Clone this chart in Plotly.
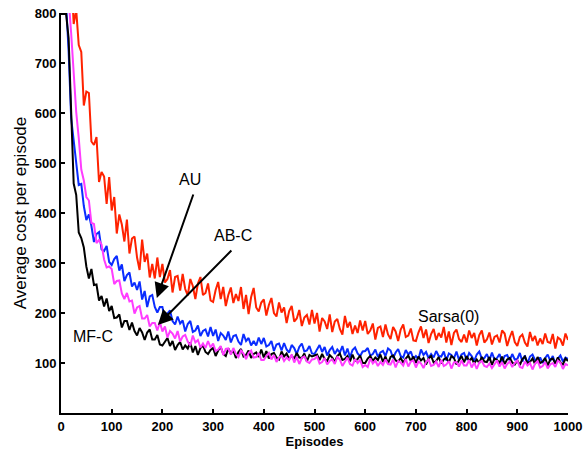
import plotly.graph_objects as go

episodes = list(range(0, 1001, 5))

sarsa0 = [
    990, 960, 930, 900, 880, 778, 806, 736, 722, 615, 643, 640, 543, 536, 552, 462, 482, 473, 418, 472,
    405, 432, 359, 397, 377, 343, 387, 319, 349, 353, 311, 286, 347, 302, 319, 271, 298, 269, 311, 272,
    298, 261, 268, 286, 241, 272, 274, 245, 278, 248, 235, 268, 254, 228, 259, 272, 236, 240, 259, 225,
    222, 246, 262, 228, 252, 214, 236, 251, 220, 238, 224, 252, 208, 236, 198, 232, 250, 211, 203, 221,
    227, 195, 216, 230, 200, 193, 221, 201, 211, 180, 204, 214, 183, 189, 206, 174, 191, 196, 177, 206,
    179, 200, 163, 190, 183, 168, 197, 162, 183, 188, 168, 157, 194, 171, 182, 158, 175, 160, 185, 165,
    184, 158, 165, 179, 147, 170, 173, 152, 177, 157, 148, 172, 163, 144, 167, 177, 152, 155, 169, 145,
    144, 161, 173, 150, 167, 140, 158, 168, 146, 160, 151, 172, 141, 163, 136, 160, 167, 148, 142, 157,
    141, 165, 150, 160, 135, 156, 165, 141, 147, 161, 137, 152, 155, 141, 165, 159, 134, 151, 164, 142,
    134, 152, 157, 141, 133, 162, 144, 154, 135, 149, 138, 159, 142, 140, 158, 129, 151, 147, 135, 159,
    146,
]

au = [
    950, 900, 820, 724, 590, 546, 500, 456, 458, 414, 386, 397, 374, 342, 358, 362, 327, 324, 334, 302,
    296, 308, 314, 285, 297, 264, 276, 281, 253, 261, 246, 263, 227, 244, 212, 233, 236, 212, 201, 212,
    212, 188, 199, 205, 184, 177, 193, 179, 185, 163, 178, 184, 162, 165, 175, 154, 164, 167, 153, 172,
    154, 167, 144, 160, 155, 146, 163, 141, 154, 156, 143, 136, 158, 144, 150, 135, 144, 135, 151, 138,
    150, 133, 136, 144, 124, 137, 139, 125, 140, 127, 121, 136, 130, 118, 132, 139, 123, 125, 134, 119,
    118, 128, 136, 122, 132, 115, 126, 132, 118, 127, 121, 134, 115, 129, 111, 126, 131, 119, 114, 123,
    124, 130, 115, 118, 127, 112, 121, 124, 114, 129, 125, 110, 121, 128, 114, 111, 126, 117, 123, 108,
    114, 108, 127, 116, 122, 110, 118, 111, 124, 114, 113, 123, 105, 119, 116, 109, 123, 106, 117, 120,
    106, 120, 114, 104, 117, 123, 109, 110, 118, 105, 121, 107, 110, 118, 101, 114, 116, 105, 118, 107,
    108, 120, 103, 115, 99, 113, 117, 106, 103, 111, 100, 110, 117, 104, 114, 99, 109, 115, 103, 111,
    108,
]

mfc = [
    798, 798, 798, 750, 610, 459, 436, 361, 350, 331, 293, 269, 288, 256, 257, 225, 234, 213, 229, 204,
    214, 190, 191, 197, 171, 184, 184, 166, 181, 164, 155, 170, 161, 146, 161, 167, 147, 147, 156, 137,
    135, 144, 150, 134, 144, 126, 136, 142, 127, 135, 129, 141, 121, 134, 116, 130, 135, 122, 118, 126,
    130, 114, 125, 132, 118, 114, 129, 119, 125, 110, 122, 128, 113, 116, 125, 110, 118, 121, 112, 127,
    111, 124, 109, 118, 120, 111, 107, 123, 113, 119, 108, 115, 108, 120, 111, 110, 119, 103, 116, 113,
    115, 117, 106, 118, 108, 104, 116, 111, 102, 114, 119, 106, 108, 114, 103, 117, 104, 108, 115, 100,
    100, 109, 114, 104, 111, 106, 117, 102, 113, 99, 112, 115, 105, 103, 110, 101, 109, 115, 104, 113,
    100, 113, 105, 110, 97, 109, 114, 101, 104, 112, 99, 107, 110, 101, 114, 110, 97, 107, 114, 101,
    114, 104, 110, 99, 107, 100, 112, 103, 102, 112, 96, 109, 106, 100, 113, 98, 107, 110, 101, 97,
    105, 96, 108, 113, 100, 102, 109, 98, 112, 100, 103, 110, 95, 107, 109, 99, 111, 101, 97, 109,
    104,
]

abc = [
    950, 910, 870, 830, 760, 677, 602, 550, 487, 465, 432, 425, 380, 378, 340, 346, 337, 307, 291, 293,
    288, 258, 264, 265, 239, 228, 240, 223, 225, 199, 211, 214, 189, 189, 196, 173, 180, 180, 165, 182,
    163, 173, 151, 164, 159, 149, 164, 143, 153, 156, 143, 135, 155, 141, 146, 131, 139, 130, 144, 131,
    139, 124, 127, 134, 116, 128, 129, 117, 130, 118, 112, 125, 119, 108, 120, 125, 111, 112, 120, 106,
    106, 114, 120, 107, 116, 102, 111, 115, 104, 111, 106, 117, 101, 112, 98, 110, 113, 103, 100, 107,
    108, 113, 99, 102, 110, 97, 104, 107, 98, 112, 107, 94, 104, 111, 98, 95, 108, 100, 106, 92,
    96, 92, 109, 99, 105, 94, 102, 96, 107, 98, 97, 107, 91, 104, 101, 95, 108, 93, 103, 105,
    91, 103, 99, 90, 102, 107, 94, 96, 103, 92, 106, 94, 97, 104, 89, 101, 102, 93, 105, 95,
    95, 106, 91, 101, 88, 101, 104, 94, 92, 99, 90, 99, 105, 93, 102, 89, 98, 103, 92, 100,
    105, 92, 90, 103, 95, 100, 87, 99, 104, 91, 94, 102, 89, 97, 100, 92, 105, 101, 88, 98,
    95,
]

xticks = list(range(0, 1001, 100))
yticks = list(range(100, 801, 100))

FONT = "Liberation Sans, Arial, Helvetica, sans-serif"

fig = go.Figure()
series = [
    ("Sarsa(0)", sarsa0, "#ff2200"),
    ("AU", au, "#0a2cff"),
    ("MF-C", mfc, "#000000"),
    ("AB-C", abc, "#ff3cff"),
]
for name, vals, col in series:
    fig.add_trace(go.Scatter(x=episodes, y=vals, mode="lines", name=name,
                             line=dict(color=col, width=2)))

labels = [
    ("AU", 254, 468),
    ("AB-C", 339, 356),
    ("MF-C", 63, 154),
    ("Sarsa(0)", 765, 194),
]
for txt, x, y in labels:
    fig.add_annotation(x=x, y=y, text=txt, showarrow=False,
                       font=dict(family=FONT, size=16, color="black"))

arrows = [
    (189, 230, 262, 440),
    (191, 176, 339, 328),
]
for x, y, ax, ay in arrows:
    fig.add_annotation(x=x, y=y, ax=ax, ay=ay, xref="x", yref="y", axref="x", ayref="y",
                       text="", showarrow=True, arrowhead=2, arrowsize=1.5,
                       arrowwidth=2, arrowcolor="black")

fig.update_layout(
    width=584, height=451,
    margin=dict(l=61, r=16, t=13, b=38),
    paper_bgcolor="white", plot_bgcolor="white",
    showlegend=False,
    font=dict(family=FONT, color="black"),
)
fig.update_xaxes(range=[0, 1000], tickvals=xticks, ticktext=[str(v) for v in xticks],
                 automargin=False,
                 showline=True, linecolor="black", linewidth=2, ticks="inside", ticklen=4,
                 tickwidth=1.5, tickcolor="black", showgrid=False, zeroline=False,
                 tickfont=dict(family=FONT, size=13, color="black", weight="bold"),
                 title=dict(text="<b>Episodes</b>", font=dict(family=FONT, size=13), standoff=2))
fig.update_yaxes(range=[0, 800], tickvals=yticks, ticktext=[str(v) for v in yticks],
                 automargin=False,
                 showline=True, linecolor="black", linewidth=2, ticks="inside", ticklen=4,
                 tickwidth=1.5, tickcolor="black", showgrid=False, zeroline=False,
                 tickfont=dict(family=FONT, size=13, color="black", weight="bold"),
                 title=dict(text="Average cost per episode", font=dict(family=FONT, size=17), standoff=4))

fig.write_html("out.html")
